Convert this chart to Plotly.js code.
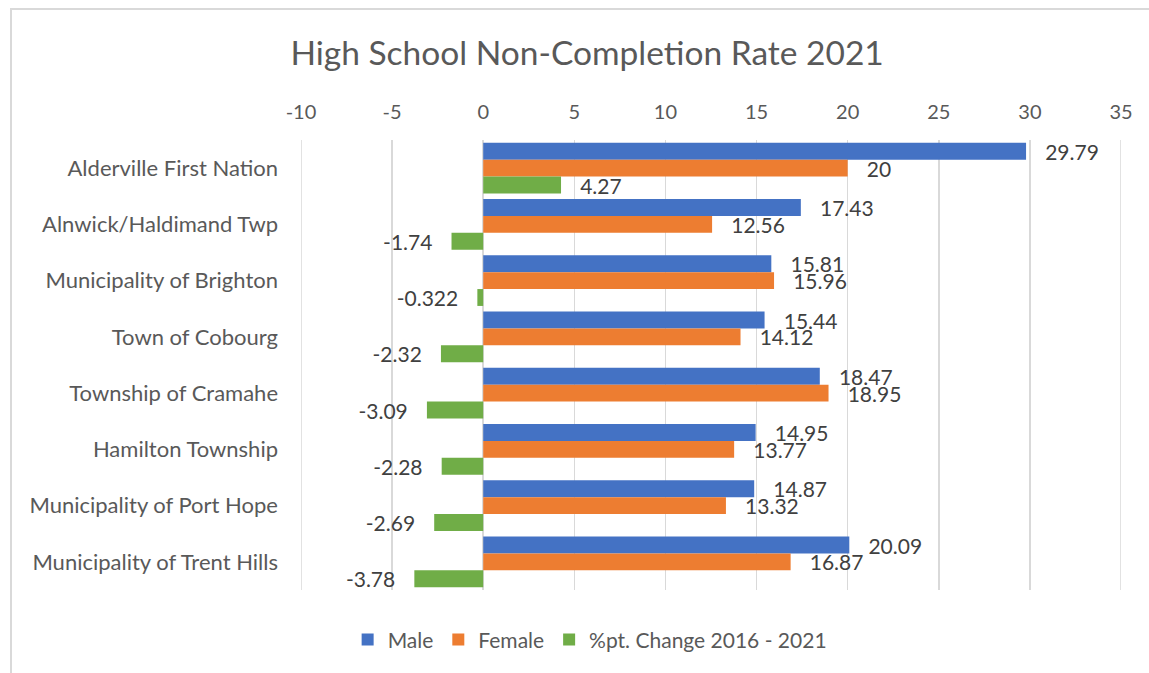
<!DOCTYPE html>
<html>
<head>
<meta charset="utf-8">
<script src="https://cdn.plot.ly/plotly-3.0.1.min.js"></script>
<style>
  html, body { margin: 0; padding: 0; background: #fff; overflow: hidden; }
  #wrap { position: relative; width: 1149px; height: 673px; overflow: hidden; }
  #frame { position: absolute; left: 10px; top: 8px; width: 1300px; height: 800px; border: 2px solid #d9d9d9; box-sizing: border-box; pointer-events: none; }
  #chart { position: absolute; left: 0; top: 0; width: 1149px; height: 673px; }
</style>
</head>
<body>
<div id="wrap">
  <div id="chart"></div>
  <div id="frame"></div>
</div>
<script>
const categories = [
  "Alderville First Nation",
  "Alnwick/Haldimand Twp",
  "Municipality of Brighton",
  "Town of Cobourg",
  "Township of Cramahe",
  "Hamilton Township",
  "Municipality of Port Hope",
  "Municipality of Trent Hills"
];
const male = [29.79, 17.43, 15.81, 15.44, 18.47, 14.95, 14.87, 20.09];
const female = [20, 12.56, 15.96, 14.12, 18.95, 13.77, 13.32, 16.87];
const change = [4.27, -1.74, -0.322, -2.32, -3.09, -2.28, -2.69, -3.78];
const seriesNames = ["Male", "Female", "%pt. Change 2016 - 2021"];
const xTicks = [-10, -5, 0, 5, 10, 15, 20, 25, 30, 35];

const FONT = "Lato, 'Open Sans', 'Liberation Sans', sans-serif";
const colors = ["#4472C4", "#ED7D31", "#70AD47"];
const PAD = "\u00A0\u00A0\u00A0";

function mk(vals, i) {
  return {
    type: "bar",
    orientation: "h",
    name: seriesNames[i],
    y: categories,
    x: vals,
    text: vals.map(v => v >= 0 ? PAD + String(v) : String(v) + PAD),
    textposition: "outside",
    textfont: { family: FONT, size: 21, color: "#404040" },
    constraintext: "none",
    cliponaxis: false,
    marker: { color: colors[i], line: { width: 0 } },
    hoverinfo: "x+y"
  };
}

const data = [mk(male, 0), mk(female, 1), mk(change, 2)];

const edgeLines = [xTicks[0], xTicks[xTicks.length - 1]].map(v => ({
  type: "line", xref: "x", yref: "paper", x0: v, x1: v, y0: 0, y1: 1,
  line: { color: "#d9d9d9", width: 1.5 }, layer: "below"
}));

const layout = {
  width: 1149,
  height: 673,
  paper_bgcolor: "rgba(0,0,0,0)",
  plot_bgcolor: "rgba(0,0,0,0)",
  margin: { l: 301, r: 28, t: 140, b: 83 },
  font: { family: FONT, color: "#595959" },
  title: {
    text: "High School Non-Completion Rate 2021",
    font: { family: FONT, size: 33.5, color: "#595959" },
    xref: "container", x: 0.511, xanchor: "center",
    yref: "container", y: 1 - 53 / 673, yanchor: "middle"
  },
  barmode: "group",
  bargap: 0.1,
  bargroupgap: 0,
  xaxis: {
    side: "top",
    range: [-10, 35],
    tickvals: xTicks,
    ticktext: xTicks.map(String),
    tickfont: { family: FONT, size: 20, color: "#595959" },
    showgrid: true,
    gridcolor: "#d9d9d9",
    gridwidth: 1.5,
    zeroline: true,
    zerolinecolor: "#d9d9d9",
    zerolinewidth: 1.5,
    showline: false,
    ticks: "",
    ticklabelstandoff: 16,
    fixedrange: true
  },
  yaxis: {
    autorange: "reversed",
    type: "category",
    tickfont: { family: FONT, size: 22, color: "#595959" },
    showgrid: false,
    zeroline: false,
    showline: false,
    ticks: "",
    ticklabelstandoff: 22,
    fixedrange: true
  },
  shapes: edgeLines,
  showlegend: true,
  legend: {
    orientation: "h",
    x: 0.352, xanchor: "center",
    y: -0.111, yanchor: "middle",
    font: { family: FONT, size: 21, color: "#595959" },
    traceorder: "normal",
    itemwidth: 30
  }
};

Plotly.newPlot("chart", data, layout, { displayModeBar: false, staticPlot: true });
</script>
</body>
</html>
